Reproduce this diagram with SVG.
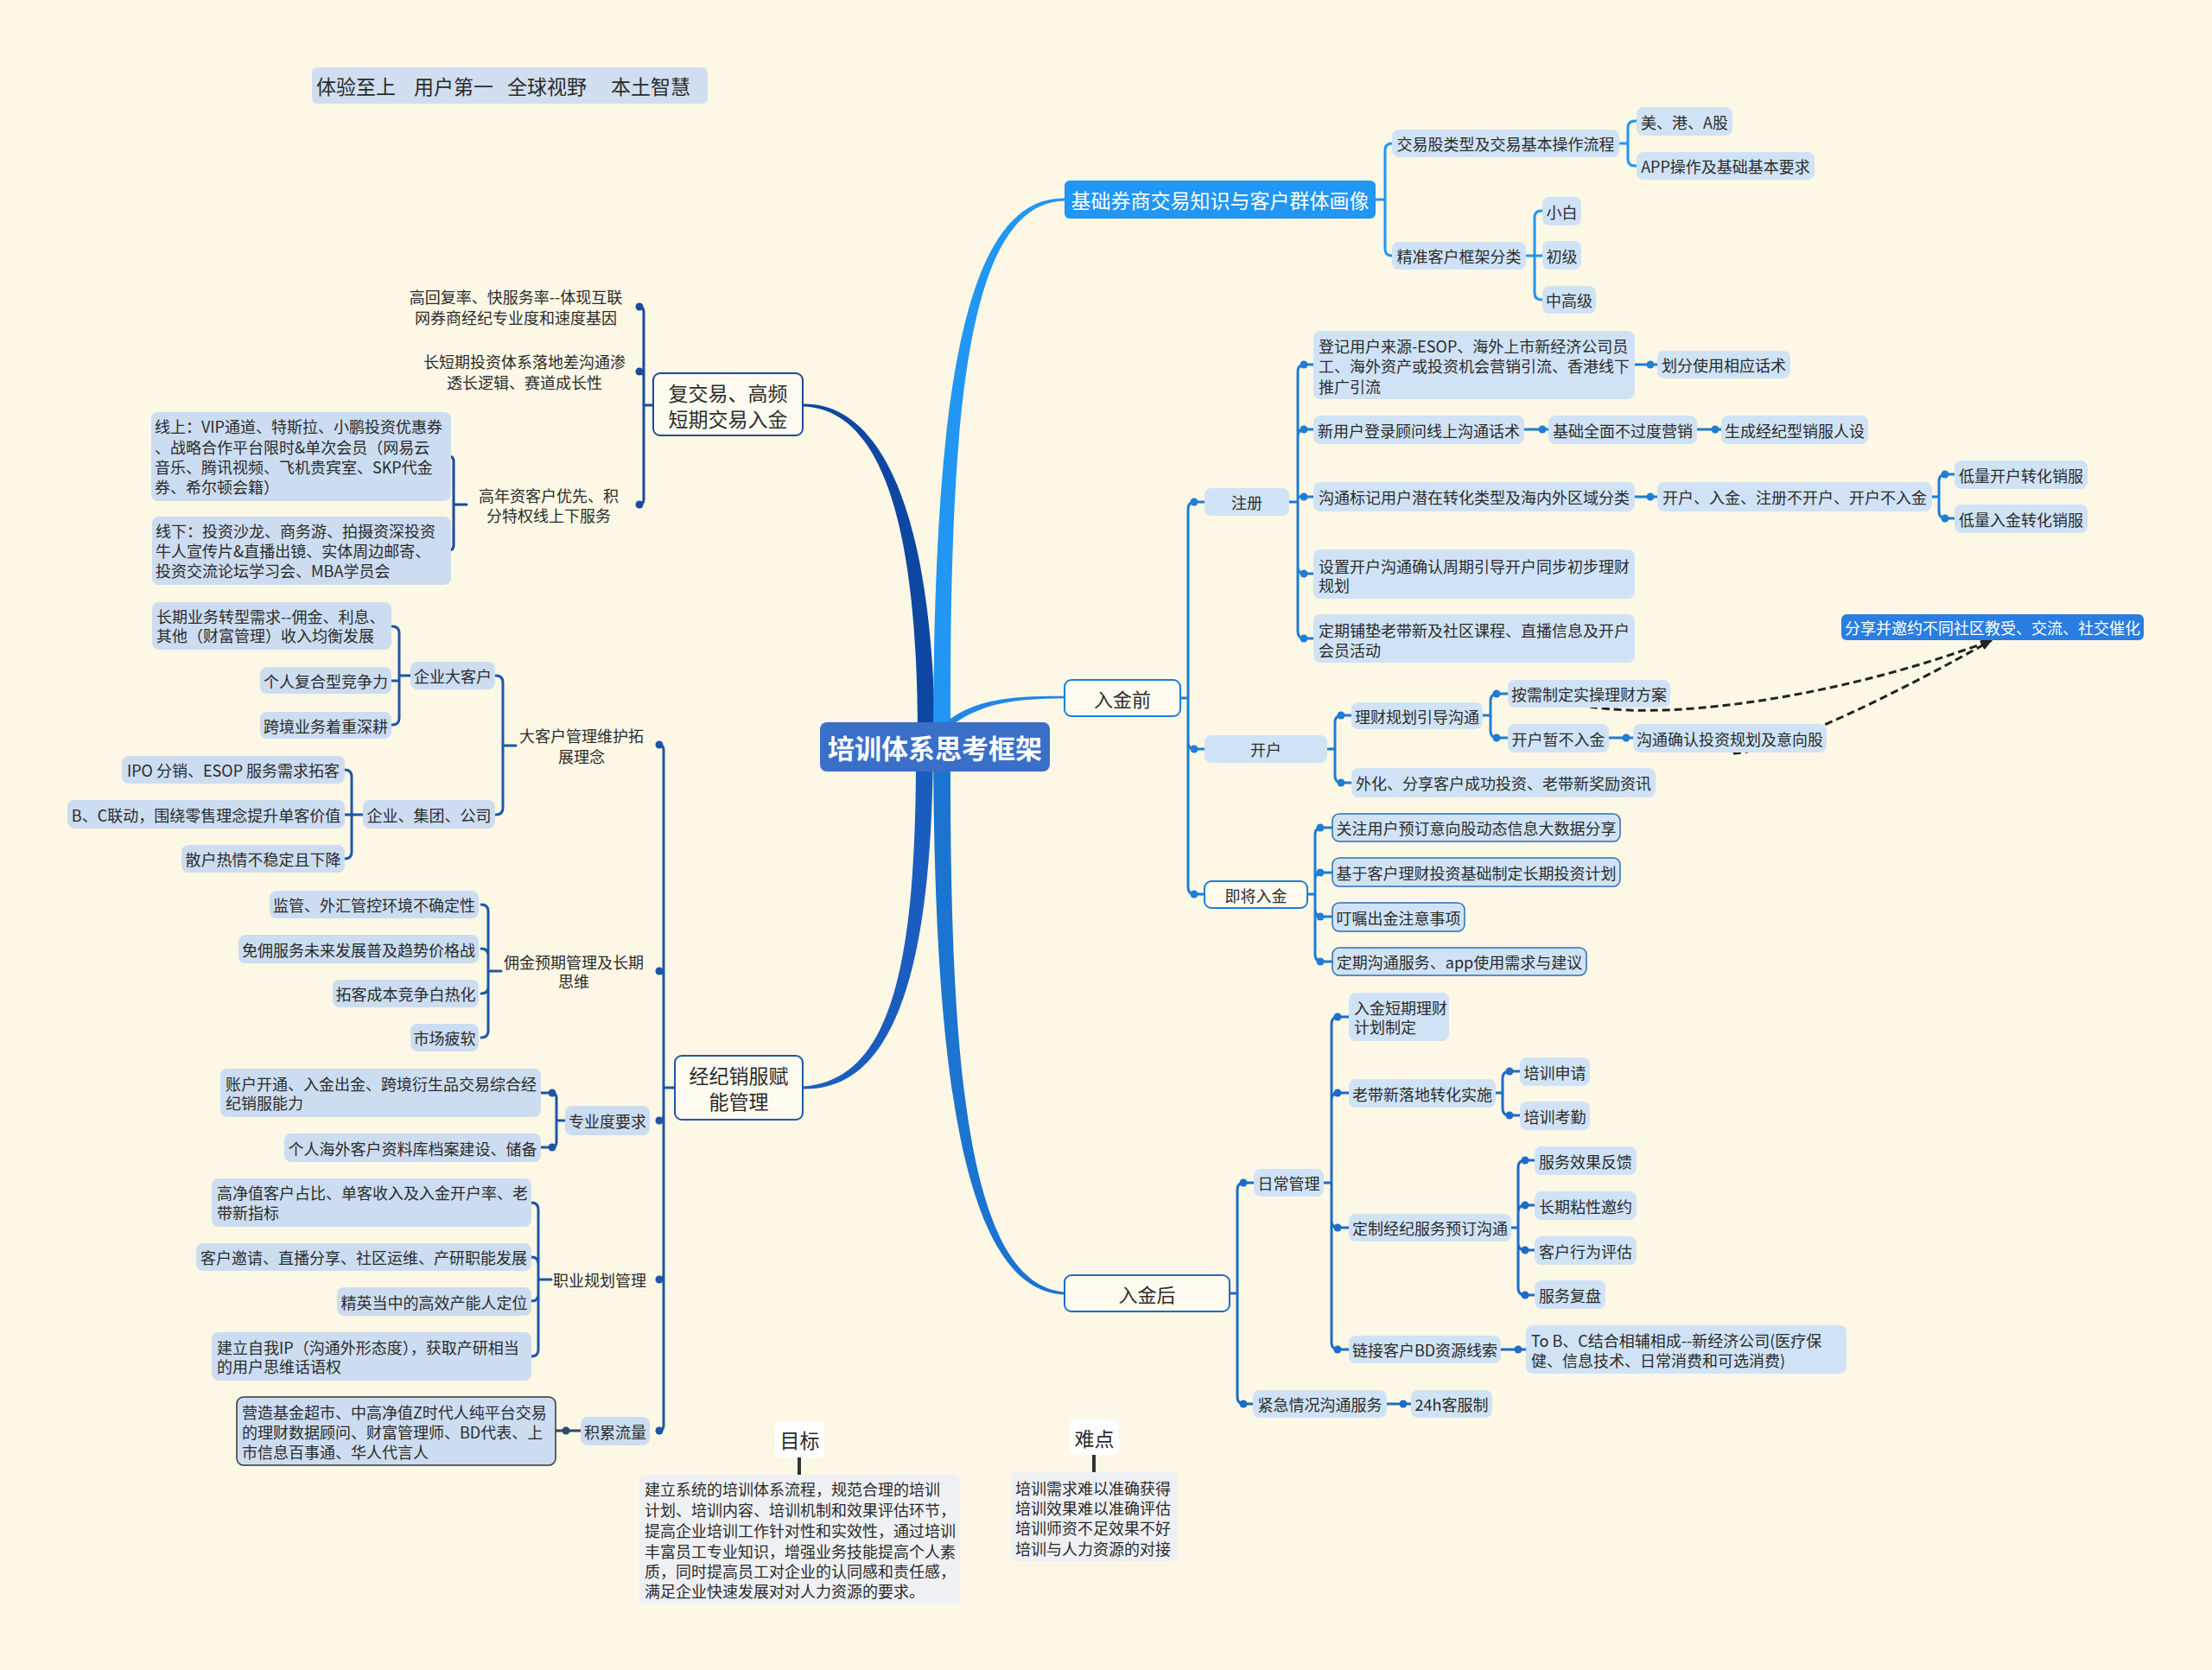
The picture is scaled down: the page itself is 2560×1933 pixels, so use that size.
<svg xmlns="http://www.w3.org/2000/svg" width="2560" height="1933" viewBox="0 0 2560 1933">
<defs>
<style>
.t{font-family:"Noto Sans CJK SC","Noto Sans",sans-serif;font-size:18px;fill:#2b2b2b}
.c{text-anchor:middle;dominant-baseline:central}
.l{dominant-baseline:central}
.big{font-size:23px}
.w{fill:#ffffff}
.n{fill:#D0E3F6}
.nl{fill:#CCDDF1}
.bo{fill:#D0E3F6;stroke:#2D6FB7;stroke-width:1.5}
.main{fill:#FFFBF0;stroke-width:2}
.k{fill:none;stroke-width:3;stroke-linecap:round;stroke-linejoin:round}
.k1{stroke:#2196F3}
.k2{stroke:#1E7DD4}
.k3{stroke:#1C6CC8}
.k4{stroke:#1A4A9A}
.k5{stroke:#1D56A8}
.k6{stroke:#2E4A6B}
.d2{fill:#1E7DD4}
.d3{fill:#1C6CC8}
.d4{fill:#1A4A9A}
.d5{fill:#1D56A8}
.d6{fill:#2E4A6B}
.dash{fill:none;stroke:#222;stroke-width:3;stroke-dasharray:9 5}
</style>
<marker id="ah" viewBox="0 0 10 10" refX="9" refY="5" markerWidth="14" markerHeight="14" markerUnits="userSpaceOnUse" orient="auto"><path d="M0,1 L10,5 L0,9 z" fill="#222"/></marker>
</defs>
<rect x="0" y="0" width="2560" height="1933" fill="#FDF7E5"/>

<g id="connectors">
<!-- main branches -->
<path d="M1062 860 C1063 600 1018 474 930 470.5 L930 467.5 C1022 466 1081 600 1082 860 Z" fill="#0E47A1"/>
<path d="M1080 860 C1079 1100 1043 1262 930 1260.5 L930 1257.5 C1037 1250 1061 1100 1060 860 Z" fill="#1B5DBF"/>
<path d="M1080 860 C1081 500 1106 227 1232 229.5 L1232 232.5 C1114 235 1099 500 1100 860 Z" fill="#2196F3"/>
<path d="M1100 860 C1099 1200 1114 1486 1232 1495.5 L1232 1498.5 C1106 1494 1081 1200 1080 860 Z" fill="#1A74D0"/>
<path d="M1093 837 C1128 809 1170 805.5 1232 805.8 L1232 808.2 C1170 808.5 1132 815 1097 843 Z" fill="#1E88E5"/>

<!-- right: 基础券商 -->
<path class="k k1" d="M1592 231 H1603 M1603 231 V174 Q1603 166 1611 166 M1603 231 V288 Q1603 296 1611 296"/>
<path class="k k1" d="M1874 166 H1884 M1884 166 V148 Q1884 140 1892 140 H1894 M1884 166 V184 Q1884 192 1892 192 H1894"/>
<path class="k k1" d="M1766 296 H1785 M1776 296 V252 Q1776 244 1784 244 H1785 M1776 296 V339 Q1776 347 1784 347 H1785"/>

<!-- right: 入金前 -->
<path class="k k2" d="M1366 808 H1375 M1375 808 V589 Q1375 581 1383 581 H1394 M1375 808 V859 Q1375 867 1383 867 H1394 M1375 808 V1027 Q1375 1035 1383 1035 H1394"/>
<path class="k k2" d="M1492 581 H1502 M1502 581 V430 Q1502 422 1510 422 H1520 M1502 581 V505 Q1502 497 1510 497 H1520 M1502 581 V575 H1520 M1502 581 V656 Q1502 664 1510 664 H1520 M1502 581 V731 Q1502 739 1510 739 H1520"/>
<path class="k k2" d="M1892 422 H1918 M1764 497 H1792 M1964 497 H1992 M1892 575 H1918 M1862 854 H1890"/>
<path class="k k2" d="M2236 575 H2244 M2244 575 V557 Q2244 549 2252 549 H2262 M2244 575 V592 Q2244 600 2252 600 H2262"/>
<path class="k k2" d="M1536 867 H1545 M1545 867 V836 Q1545 828 1553 828 H1564 M1545 867 V898 Q1545 906 1553 906 H1564"/>
<path class="k k2" d="M1716 828 H1725 M1725 828 V811 Q1725 803 1733 803 H1745 M1725 828 V846 Q1725 854 1733 854 H1745"/>
<path class="k k2" d="M1513 1035 H1522 M1522 1035 V966 Q1522 958 1530 958 H1542 M1522 1035 V1018 Q1522 1010 1530 1010 H1542 M1522 1035 V1053 Q1522 1061 1530 1061 H1542 M1522 1035 V1105 Q1522 1113 1530 1113 H1542"/>
<g class="d2">
<circle cx="1382" cy="581" r="4.5"/><circle cx="1382" cy="867" r="4.5"/><circle cx="1382" cy="1035" r="4.5"/>
<circle cx="1509" cy="422" r="4.5"/><circle cx="1509" cy="497" r="4.5"/><circle cx="1509" cy="575" r="4.5"/><circle cx="1509" cy="664" r="4.5"/><circle cx="1509" cy="739" r="4.5"/>
<circle cx="1910" cy="422" r="4.5"/><circle cx="1785" cy="497" r="4.5"/><circle cx="1985" cy="497" r="4.5"/><circle cx="1910" cy="575" r="4.5"/>
<circle cx="2251" cy="549" r="4.5"/><circle cx="2251" cy="600" r="4.5"/>
<circle cx="1552" cy="828" r="4.5"/><circle cx="1552" cy="906" r="4.5"/>
<circle cx="1732" cy="803" r="4.5"/><circle cx="1732" cy="854" r="4.5"/><circle cx="1882" cy="854" r="4.5"/>
<circle cx="1528" cy="958" r="4.5"/><circle cx="1528" cy="1010" r="4.5"/><circle cx="1528" cy="1061" r="4.5"/><circle cx="1528" cy="1113" r="4.5"/>
</g>

<!-- right: 入金后 -->
<path class="k k3" d="M1423 1497 H1432 M1432 1497 V1377 Q1432 1369 1440 1369 H1451 M1432 1497 V1617 Q1432 1625 1440 1625 H1450"/>
<path class="k k3" d="M1532 1369 H1541 M1541 1369 V1185 Q1541 1177 1549 1177 H1561 M1541 1369 V1273 Q1541 1265 1549 1265 H1561 M1541 1369 V1413 Q1541 1421 1549 1421 H1561 M1541 1369 V1554 Q1541 1562 1549 1562 H1561"/>
<path class="k k3" d="M1731 1265 H1739 M1739 1265 V1248 Q1739 1240 1747 1240 H1759 M1739 1265 V1283 Q1739 1291 1747 1291 H1759"/>
<path class="k k3" d="M1749 1421 H1757 M1757 1421 V1351 Q1757 1343 1765 1343 H1776 M1757 1421 V1403 Q1757 1395 1765 1395 H1776 M1757 1421 V1439 Q1757 1447 1765 1447 H1776 M1757 1421 V1491 Q1757 1499 1765 1499 H1776"/>
<path class="k k3" d="M1737 1562 H1766 M1605 1625 H1633"/>
<g class="d3">
<circle cx="1439" cy="1369" r="4.5"/><circle cx="1439" cy="1625" r="4.5"/>
<circle cx="1548" cy="1177" r="4.5"/><circle cx="1548" cy="1265" r="4.5"/><circle cx="1548" cy="1421" r="4.5"/><circle cx="1548" cy="1562" r="4.5"/>
<circle cx="1747" cy="1240" r="4.5"/><circle cx="1747" cy="1291" r="4.5"/>
<circle cx="1765" cy="1343" r="4.5"/><circle cx="1765" cy="1395" r="4.5"/><circle cx="1765" cy="1447" r="4.5"/><circle cx="1765" cy="1499" r="4.5"/>
<circle cx="1757" cy="1562" r="4.5"/><circle cx="1624" cy="1625" r="4.5"/>
</g>

<!-- left: 复交易 -->
<path class="k k4" d="M756 469 H745 M745 469 V361 Q745 355 739 355 M745 469 V436 Q745 430 739 430 M745 469 V578 Q745 584 739 584"/>
<path class="k k4" d="M540 584 H525 M525 584 V534 Q525 528 519 528 M525 584 V631 Q525 637 519 637"/>
<g class="d4"><circle cx="740" cy="355" r="4.5"/><circle cx="740" cy="430" r="4.5"/><circle cx="740" cy="584" r="4.5"/></g>

<!-- left: 经纪销服 -->
<path class="k k5" d="M781 1259 H768 M768 1259 V868 Q768 862 762 862 M768 1259 V1130 Q768 1124 762 1124 M768 1259 V1291 Q768 1297 762 1297 M768 1259 V1475 Q768 1481 762 1481 M768 1259 V1650 Q768 1656 762 1656"/>
<path class="k k5" d="M597 863 H582 M582 863 V790 Q582 782 574 782 M582 863 V935 Q582 943 574 943"/>
<path class="k k5" d="M475 782 H462 M462 782 V733 Q462 725 454 725 M462 782 V788 H453 M462 782 V831 Q462 839 454 839"/>
<path class="k k5" d="M420 943 H399 M407 943 V899 Q407 891 399 891 M407 943 V986 Q407 994 399 994"/>
<path class="k k5" d="M580 1124 H565 M565 1124 V1055 Q565 1047 557 1047 M565 1124 V1106 Q565 1098 557 1098 M565 1124 V1142 Q565 1150 557 1150 M565 1124 V1193 Q565 1201 557 1201"/>
<path class="k k5" d="M654 1297 H644 M644 1297 V1271 Q644 1265 638 1265 H626 M644 1297 V1322 Q644 1328 638 1328 H626"/>
<path class="k k5" d="M638 1481 H623 M623 1481 V1400 Q623 1392 615 1392 M623 1481 V1463 Q623 1455 615 1455 M623 1481 V1498 Q623 1506 615 1506 M623 1481 V1562 Q623 1570 615 1570"/>
<path class="k k6" d="M672 1656 H643"/>
<g class="d5">
<circle cx="763" cy="862" r="4.5"/><circle cx="763" cy="1124" r="4.5"/><circle cx="763" cy="1297" r="4.5"/><circle cx="763" cy="1481" r="4.5"/><circle cx="763" cy="1656" r="4.5"/>
<circle cx="639" cy="1265" r="4.5"/><circle cx="639" cy="1328" r="4.5"/>
</g>
<circle class="d6" cx="655" cy="1656" r="4.5"/>

<!-- 目标/难点 stems -->
<path d="M925 1687 V1707 M1266 1684 V1704" stroke="#333" stroke-width="4" fill="none"/>

<!-- dashed relations -->
<path class="dash" d="M1840 818 C1950 835 2150 800 2305 741" marker-end="url(#ah)"/>
<path class="dash" d="M2006 872 C2060 870 2200 800 2305 741" marker-end="url(#ah)"/>
</g>

<!-- slogan -->
<g id="slogan">
<rect x="361" y="78" width="458" height="42" rx="6" fill="#D0DEF0"/>
<text class="t l big" y="99"><tspan x="366">体验至上 </tspan><tspan x="479">用户第一 </tspan><tspan x="587">全球视野 </tspan><tspan x="707">本土智慧</tspan></text>
</g>

<!-- center -->
<g id="center">
<rect x="949" y="836" width="266" height="57" rx="8" fill="#3A6FC8"/>
<text class="t c" x="1082" y="864.5" style="font-size:31px;font-weight:bold;fill:#fff">培训体系思考框架</text>
</g>

<!-- right top branch -->
<g id="n-jichu"><rect x="1232" y="209" width="360" height="44" rx="6" fill="#2196F3"/><text class="t c big w" x="1412" y="231">基础券商交易知识与客户群体画像</text></g>
<g id="n-jiaoyigu"><rect class="n" x="1611" y="150" width="263" height="32" rx="8"/><text class="t c" x="1742.5" y="166">交易股类型及交易基本操作流程</text></g>
<g id="n-meigang"><rect class="n" x="1894" y="124" width="111" height="33" rx="8"/><text class="t c" x="1949.5" y="140.5">美、港、A股</text></g>
<g id="n-app"><rect class="n" x="1894" y="176" width="206" height="32" rx="8"/><text class="t c" x="1997" y="192">APP操作及基础基本要求</text></g>
<g id="n-jingzhun"><rect class="n" x="1611" y="280" width="155" height="32" rx="8"/><text class="t c" x="1688.5" y="296">精准客户框架分类</text></g>
<g id="n-xiaobai"><rect class="n" x="1785" y="228" width="45" height="33" rx="8"/><text class="t c" x="1807.5" y="244.5">小白</text></g>
<g id="n-chuji"><rect class="n" x="1785" y="279" width="45" height="33" rx="8"/><text class="t c" x="1807.5" y="295.5">初级</text></g>
<g id="n-zhonggao"><rect class="n" x="1785" y="331" width="62" height="32" rx="8"/><text class="t c" x="1816" y="347">中高级</text></g>

<!-- 入金前 -->
<g id="n-rujinqian"><rect class="main" x="1232" y="787" width="134" height="42" rx="8" stroke="#1E7DD4"/><text class="t c" x="1299" y="808" style="font-size:22px">入金前</text></g>
<g id="n-zhuce"><rect class="n" x="1394" y="565" width="98" height="32" rx="8"/><text class="t c" x="1443" y="581">注册</text></g>
<g id="n-dengji"><rect class="n" x="1520" y="383" width="372" height="79" rx="8"/><text class="t l"><tspan x="1526" y="400">登记用户来源-ESOP、海外上市新经济公司员</tspan><tspan x="1526" y="423">工、海外资产或投资机会营销引流、香港线下</tspan><tspan x="1526" y="447">推广引流</tspan></text></g>
<g id="n-huafen"><rect class="n" x="1918" y="406" width="154" height="32" rx="8"/><text class="t c" x="1995" y="422">划分使用相应话术</text></g>
<g id="n-xinyonghu"><rect class="n" x="1520" y="481" width="244" height="33" rx="8"/><text class="t c" x="1642" y="497.5">新用户登录顾问线上沟通话术</text></g>
<g id="n-jichuquanmian"><rect class="n" x="1792" y="481" width="172" height="33" rx="8"/><text class="t c" x="1878" y="497.5">基础全面不过度营销</text></g>
<g id="n-shengcheng"><rect class="n" x="1992" y="481" width="170" height="33" rx="8"/><text class="t c" x="2077" y="497.5">生成经纪型销服人设</text></g>
<g id="n-goutongbiaoji"><rect class="n" x="1520" y="558" width="372" height="34" rx="8"/><text class="t c" x="1706" y="575">沟通标记用户潜在转化类型及海内外区域分类</text></g>
<g id="n-kaihurujin"><rect class="n" x="1918" y="558" width="318" height="34" rx="8"/><text class="t c" x="2077" y="575">开户、入金、注册不开户、开户不入金</text></g>
<g id="n-diliangkaihu"><rect class="n" x="2262" y="533" width="154" height="33" rx="8"/><text class="t c" x="2339" y="549.5">低量开户转化销服</text></g>
<g id="n-diliangrujin"><rect class="n" x="2262" y="584" width="154" height="33" rx="8"/><text class="t c" x="2339" y="600.5">低量入金转化销服</text></g>
<g id="n-shezhi"><rect class="n" x="1520" y="636" width="372" height="57" rx="8"/><text class="t l"><tspan x="1526" y="655">设置开户沟通确认周期引导开户同步初步理财</tspan><tspan x="1526" y="677">规划</tspan></text></g>
<g id="n-dingqipudian"><rect class="n" x="1520" y="711" width="372" height="56" rx="8"/><text class="t l"><tspan x="1526" y="729">定期铺垫老带新及社区课程、直播信息及开户</tspan><tspan x="1526" y="752">会员活动</tspan></text></g>
<g id="n-fenxiang"><rect x="2131" y="711" width="350" height="30" rx="6" fill="#2A7DE1"/><text class="t c w" x="2306" y="726">分享并邀约不同社区教受、交流、社交催化</text></g>
<g id="n-kaihu"><rect class="n" x="1394" y="851" width="142" height="32" rx="8"/><text class="t c" x="1465" y="867">开户</text></g>
<g id="n-licai"><rect class="n" x="1564" y="813" width="152" height="31" rx="8"/><text class="t c" x="1640" y="828.5">理财规划引导沟通</text></g>
<g id="n-anxu"><rect class="n" x="1745" y="787" width="188" height="32" rx="8"/><text class="t c" x="1839" y="803">按需制定实操理财方案</text></g>
<g id="n-zanbu"><rect class="n" x="1745" y="838" width="117" height="33" rx="8"/><text class="t c" x="1803.5" y="854.5">开户暂不入金</text></g>
<g id="n-goutongqueren"><rect class="n" x="1890" y="838" width="224" height="33" rx="8"/><text class="t c" x="2002" y="854.5">沟通确认投资规划及意向股</text></g>
<g id="n-waihua"><rect class="n" x="1564" y="889" width="352" height="34" rx="8"/><text class="t c" x="1740" y="906">外化、分享客户成功投资、老带新奖励资讯</text></g>
<g id="n-jijiang"><rect class="main" x="1394" y="1020" width="119" height="31" rx="8" stroke="#1E7DD4"/><text class="t c" x="1453.5" y="1035.5">即将入金</text></g>
<g id="n-guanzhu"><rect class="bo" x="1542" y="942" width="333" height="32" rx="8"/><text class="t c" x="1708.5" y="958">关注用户预订意向股动态信息大数据分享</text></g>
<g id="n-jiyu"><rect class="bo" x="1542" y="993" width="333" height="33" rx="8"/><text class="t c" x="1708.5" y="1009.5">基于客户理财投资基础制定长期投资计划</text></g>
<g id="n-dingzhu"><rect class="bo" x="1542" y="1045" width="153" height="33" rx="8"/><text class="t c" x="1618.5" y="1061.5">叮嘱出金注意事项</text></g>
<g id="n-dingqigoutong"><rect class="bo" x="1542" y="1097" width="294" height="32" rx="8"/><text class="t c" x="1689" y="1113">定期沟通服务、app使用需求与建议</text></g>

<!-- 入金后 -->
<g id="n-rujinhou"><rect class="main" x="1232" y="1476" width="191" height="42" rx="8" stroke="#1C6CC8"/><text class="t c" x="1327.5" y="1497" style="font-size:22px">入金后</text></g>
<g id="n-richang"><rect class="n" x="1451" y="1353" width="81" height="32" rx="8"/><text class="t c" x="1491.5" y="1369">日常管理</text></g>
<g id="n-rujinduanqi"><rect class="n" x="1561" y="1149" width="116" height="56" rx="8"/><text class="t l"><tspan x="1567" y="1166">入金短期理财</tspan><tspan x="1567" y="1188">计划制定</tspan></text></g>
<g id="n-laodaixin"><rect class="n" x="1561" y="1249" width="170" height="33" rx="8"/><text class="t c" x="1646" y="1265.5">老带新落地转化实施</text></g>
<g id="n-peixunshenqing"><rect class="n" x="1759" y="1224" width="81" height="33" rx="8"/><text class="t c" x="1799.5" y="1240.5">培训申请</text></g>
<g id="n-peixunkaoqin"><rect class="n" x="1759" y="1275" width="81" height="33" rx="8"/><text class="t c" x="1799.5" y="1291.5">培训考勤</text></g>
<g id="n-dingzhi"><rect class="n" x="1561" y="1405" width="188" height="32" rx="8"/><text class="t c" x="1655" y="1421">定制经纪服务预订沟通</text></g>
<g id="n-fuwuxiaoguo"><rect class="n" x="1776" y="1327" width="118" height="33" rx="8"/><text class="t c" x="1835" y="1343.5">服务效果反馈</text></g>
<g id="n-changqinianxing"><rect class="n" x="1776" y="1379" width="118" height="33" rx="8"/><text class="t c" x="1835" y="1395.5">长期粘性邀约</text></g>
<g id="n-kehuxingwei"><rect class="n" x="1776" y="1431" width="118" height="33" rx="8"/><text class="t c" x="1835" y="1447.5">客户行为评估</text></g>
<g id="n-fuwufupan"><rect class="n" x="1776" y="1482" width="82" height="33" rx="8"/><text class="t c" x="1817" y="1498.5">服务复盘</text></g>
<g id="n-lianjie"><rect class="n" x="1561" y="1546" width="176" height="32" rx="8"/><text class="t c" x="1649" y="1562">链接客户BD资源线索</text></g>
<g id="n-tob"><rect class="n" x="1766" y="1534" width="371" height="56" rx="8"/><text class="t l"><tspan x="1772" y="1551">To B、C结合相辅相成--新经济公司(医疗保</tspan><tspan x="1772" y="1574">健、信息技术、日常消费和可选消费)</tspan></text></g>
<g id="n-jinji"><rect class="n" x="1450" y="1609" width="155" height="32" rx="8"/><text class="t c" x="1527.5" y="1625">紧急情况沟通服务</text></g>
<g id="n-24h"><rect class="n" x="1633" y="1609" width="94" height="32" rx="8"/><text class="t c" x="1680" y="1625">24h客服制</text></g>

<!-- left: 复交易 -->
<g id="n-fujiaoyi"><rect class="main" x="756" y="432" width="173" height="72" rx="8" stroke="#1A4A9A"/><text class="t c big"><tspan x="842.5" y="454">复交易、高频</tspan><tspan x="842.5" y="484">短期交易入金</tspan></text></g>
<g id="n-gaohuifu"><text class="t c"><tspan x="597" y="343">高回复率、快服务率--体现互联</tspan><tspan x="597" y="367">网券商经纪专业度和速度基因</tspan></text></g>
<g id="n-changduanqi"><text class="t c"><tspan x="607" y="418">长短期投资体系落地差沟通渗</tspan><tspan x="607" y="442">透长逻辑、赛道成长性</tspan></text></g>
<g id="n-gaonianzi"><text class="t c"><tspan x="635" y="573">高年资客户优先、积</tspan><tspan x="635" y="596">分特权线上下服务</tspan></text></g>
<g id="n-xianshang"><rect class="nl" x="175" y="477" width="347" height="103" rx="8"/><text class="t l"><tspan x="179" y="493">线上：VIP通道、特斯拉、小鹏投资优惠券</tspan><tspan x="179" y="517">、战略合作平台限时&amp;单次会员（网易云</tspan><tspan x="179" y="540">音乐、腾讯视频、飞机贵宾室、SKP代金</tspan><tspan x="179" y="563">券、希尔顿会籍）</tspan></text></g>
<g id="n-xianxia"><rect class="nl" x="176" y="598" width="346" height="79" rx="8"/><text class="t l"><tspan x="180" y="614">线下：投资沙龙、商务游、拍摄资深投资</tspan><tspan x="180" y="637">牛人宣传片&amp;直播出镜、实体周边邮寄、</tspan><tspan x="180" y="660">投资交流论坛学习会、MBA学员会</tspan></text></g>

<!-- left: 经纪销服 -->
<g id="n-jingji"><rect class="main" x="781" y="1222" width="148" height="74" rx="8" stroke="#1D56A8"/><text class="t c big"><tspan x="855" y="1244">经纪销服赋</tspan><tspan x="855" y="1274">能管理</tspan></text></g>
<g id="n-dakehu"><text class="t c"><tspan x="673" y="851">大客户管理维护拓</tspan><tspan x="673" y="875">展理念</tspan></text></g>
<g id="n-qiyedakehu"><rect class="nl" x="475" y="766" width="98" height="32" rx="8"/><text class="t c" x="524" y="782">企业大客户</text></g>
<g id="n-changqiyewu"><rect class="nl" x="176" y="697" width="277" height="55" rx="8"/><text class="t l"><tspan x="181" y="713">长期业务转型需求--佣金、利息、</tspan><tspan x="181" y="735">其他（财富管理）收入均衡发展</tspan></text></g>
<g id="n-gerenfuhe"><rect class="nl" x="301" y="772" width="152" height="31" rx="8"/><text class="t c" x="377" y="787.5">个人复合型竞争力</text></g>
<g id="n-kuajing"><rect class="nl" x="301" y="824" width="152" height="31" rx="8"/><text class="t c" x="377" y="839.5">跨境业务着重深耕</text></g>
<g id="n-qiyejituan"><rect class="nl" x="420" y="926" width="153" height="33" rx="8"/><text class="t c" x="496.5" y="942.5">企业、集团、公司</text></g>
<g id="n-ipo"><rect class="nl" x="141" y="875" width="258" height="32" rx="8"/><text class="t c" x="270" y="891">IPO 分销、ESOP 服务需求拓客</text></g>
<g id="n-bc"><rect class="nl" x="78" y="926" width="321" height="33" rx="8"/><text class="t c" x="238.5" y="942.5">B、C联动，围绕零售理念提升单客价值</text></g>
<g id="n-sanhu"><rect class="nl" x="210" y="978" width="189" height="32" rx="8"/><text class="t c" x="304.5" y="994">散户热情不稳定且下降</text></g>
<g id="n-yongjin"><text class="t c"><tspan x="664" y="1113">佣金预期管理及长期</tspan><tspan x="664" y="1135">思维</tspan></text></g>
<g id="n-jianguan"><rect class="nl" x="312" y="1031" width="242" height="32" rx="8"/><text class="t c" x="433" y="1047">监管、外汇管控环境不确定性</text></g>
<g id="n-mianyong"><rect class="nl" x="276" y="1082" width="278" height="33" rx="8"/><text class="t c" x="415" y="1098.5">免佣服务未来发展普及趋势价格战</text></g>
<g id="n-tuoke"><rect class="nl" x="385" y="1134" width="169" height="32" rx="8"/><text class="t c" x="469.5" y="1150">拓客成本竞争白热化</text></g>
<g id="n-shichang"><rect class="nl" x="475" y="1185" width="79" height="32" rx="8"/><text class="t c" x="514.5" y="1201">市场疲软</text></g>
<g id="n-zhuanye"><rect class="nl" x="654" y="1280" width="98" height="34" rx="8"/><text class="t c" x="703" y="1297">专业度要求</text></g>
<g id="n-zhanghu"><rect class="nl" x="255" y="1237" width="371" height="56" rx="8"/><text class="t l"><tspan x="261" y="1254">账户开通、入金出金、跨境衍生品交易综合经</tspan><tspan x="261" y="1276">纪销服能力</tspan></text></g>
<g id="n-gerenhaiwai"><rect class="nl" x="329" y="1312" width="297" height="33" rx="8"/><text class="t c" x="477.5" y="1328.5">个人海外客户资料库档案建设、储备</text></g>
<g id="n-zhiye"><text class="t c" x="694" y="1481">职业规划管理</text></g>
<g id="n-gaojingzhi"><rect class="nl" x="245" y="1364" width="370" height="56" rx="8"/><text class="t l"><tspan x="251" y="1380">高净值客户占比、单客收入及入金开户率、老</tspan><tspan x="251" y="1403">带新指标</tspan></text></g>
<g id="n-kehuyaoqing"><rect class="nl" x="227" y="1439" width="388" height="32" rx="8"/><text class="t c" x="421" y="1455">客户邀请、直播分享、社区运维、产研职能发展</text></g>
<g id="n-jingying"><rect class="nl" x="390" y="1490" width="225" height="33" rx="8"/><text class="t c" x="502.5" y="1506.5">精英当中的高效产能人定位</text></g>
<g id="n-jianli"><rect class="nl" x="245" y="1542" width="370" height="56" rx="8"/><text class="t l"><tspan x="251" y="1559">建立自我IP（沟通外形态度），获取产研相当</tspan><tspan x="251" y="1581">的用户思维话语权</tspan></text></g>
<g id="n-jilei"><rect class="nl" x="672" y="1640" width="80" height="33" rx="8"/><text class="t c" x="712" y="1656.5">积累流量</text></g>
<g id="n-yingzao"><rect class="nl" x="274" y="1617" width="369" height="79" rx="8" stroke="#333" stroke-width="1.5"/><text class="t l"><tspan x="280" y="1634">营造基金超市、中高净值Z时代人纯平台交易</tspan><tspan x="280" y="1657">的理财数据顾问、财富管理师、BD代表、上</tspan><tspan x="280" y="1680">市信息百事通、华人代言人</tspan></text></g>

<!-- 目标 / 难点 -->
<g id="n-mubiao"><rect x="897" y="1645" width="57" height="42" rx="6" fill="#fff"/><text class="t c big" x="925.5" y="1666">目标</text></g>
<g id="n-mubiao-desc"><rect x="740" y="1707" width="371" height="149" rx="6" fill="#EEF0F3"/><text class="t l"><tspan x="746" y="1723">建立系统的培训体系流程，规范合理的培训</tspan><tspan x="746" y="1747">计划、培训内容、培训机制和效果评估环节，</tspan><tspan x="746" y="1771">提高企业培训工作针对性和实效性，通过培训</tspan><tspan x="746" y="1795">丰富员工专业知识，增强业务技能提高个人素</tspan><tspan x="746" y="1818">质，同时提高员工对企业的认同感和责任感，</tspan><tspan x="746" y="1841">满足企业快速发展对对人力资源的要求。</tspan></text></g>
<g id="n-nandian"><rect x="1238" y="1643" width="57" height="41" rx="6" fill="#fff"/><text class="t c big" x="1266.5" y="1663.5">难点</text></g>
<g id="n-nandian-desc"><rect x="1170" y="1704" width="193" height="103" rx="6" fill="#EEF0F3"/><text class="t l"><tspan x="1175" y="1722">培训需求难以准确获得</tspan><tspan x="1175" y="1745">培训效果难以准确评估</tspan><tspan x="1175" y="1768">培训师资不足效果不好</tspan><tspan x="1175" y="1792">培训与人力资源的对接</tspan></text></g>
</svg>
